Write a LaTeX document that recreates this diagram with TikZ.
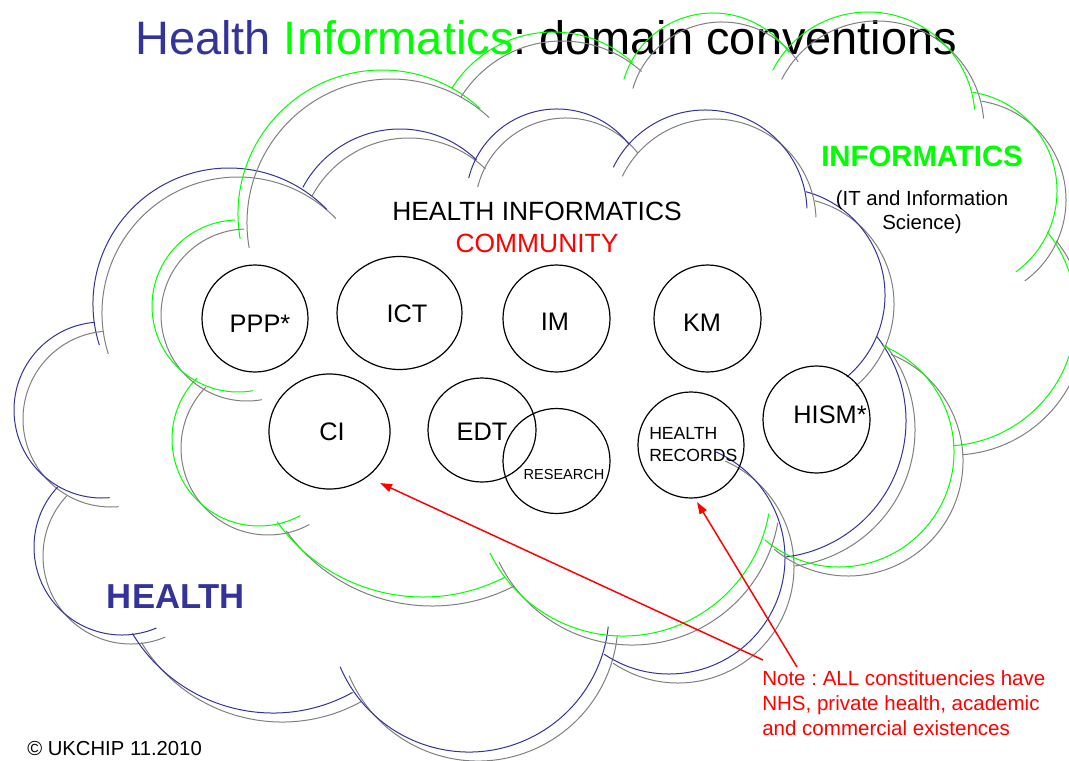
\documentclass[tikz,border=0pt]{standalone}
\usepackage{fontspec}
\setmainfont{Liberation Sans}
\usetikzlibrary{arrows.meta,shapes.geometric}
\definecolor{hblue}{RGB}{51,51,153}
\definecolor{igreen}{RGB}{0,255,0}
\definecolor{sgray}{RGB}{128,128,128}
\definecolor{nred}{RGB}{255,0,0}
% #1 style, #2 cx, #3 cy, #4 radius, #5 start angle, #6 end angle (pixel coords, y down)
\newcommand\cloudarc[6]{%
  \draw[shadowarc] (#2+9,#3+9) ++(#5:#4) arc[start angle=#5,end angle=#6,radius=#4];
  \draw[#1] (#2,#3) ++(#5:#4) arc[start angle=#5,end angle=#6,radius=#4];}
\newcommand\fsz[1]{\fontsize{#1pt}{#1pt}\selectfont}
\frenchspacing
\begin{document}
\begin{tikzpicture}[x=0.75pt,y=-0.75pt,
  healtharc/.style={draw=hblue,line width=0.75pt},
  infoarc/.style={draw=igreen,line width=0.75pt},
  shadowarc/.style={draw=sgray,line width=0.75pt},
  ring/.style={draw=black,line width=0.9pt,ellipse,inner sep=0pt},
  lbl/.style={inner sep=0pt,anchor=base,font=\fsz{19}},
  notetext/.style={inner sep=0pt,anchor=base west,text=nred,font=\fsz{15.4}},
  noteline/.style={draw=nred,line width=1.1pt,-{Triangle[length=9pt,width=6pt]}}]
\fill[white] (0,0) rectangle (1069,760);
\useasboundingbox (0,0) rectangle (1069,760);

% title
\node[inner sep=0pt,anchor=base west,font=\fsz{35.2}] (title) at (135,54)
  {\textcolor{hblue}{Health} \textcolor{igreen}{Informatics}: domain conventions};

% HEALTH cloud (blue)
\cloudarc{healtharc}{229}{304}{136}{162.5}{316}
\cloudarc{healtharc}{102}{410}{88}{265}{85}
\cloudarc{healtharc}{122}{547}{88}{223}{67}
\cloudarc{healtharc}{273}{549}{164}{149}{61}
\cloudarc{healtharc}{469}{612}{140}{157}{6}
\cloudarc{healtharc}{669}{558}{116}{124}{-66}
\cloudarc{healtharc}{769}{421}{137}{322}{443}
\cloudarc{healtharc}{778}{295}{107}{285}{410}
\cloudarc{healtharc}{400}{239}{110}{208}{314}
\cloudarc{healtharc}{557}{200}{91}{194}{322}
\cloudarc{healtharc}{705}{212}{102}{206}{358}

% INFORMATICS cloud (green)
\cloudarc{infoarc}{382}{214}{144}{170}{313}
\cloudarc{infoarc}{553}{151}{119}{212}{312}
\cloudarc{infoarc}{713}{106}{93}{196.5}{325}
\cloudarc{infoarc}{868}{119}{107}{207}{355}
\cloudarc{infoarc}{957}{191}{100}{279}{414}
\cloudarc{infoarc}{944}{314}{132}{321.5}{446}
\cloudarc{infoarc}{839}{452}{115}{292}{490}
\cloudarc{infoarc}{623}{488}{148}{10}{154}
\cloudarc{infoarc}{423}{418}{179}{144.5}{62.7}
\cloudarc{infoarc}{259}{439}{87}{224.5}{61.6}
\cloudarc{infoarc}{238}{306}{86}{80}{268}

% community circles
\node[ring,minimum width=79.5pt,minimum height=80.25pt] (ppp) at (255,318.5) {};
\node[ring,minimum width=93.75pt,minimum height=84.75pt] (ict) at (399.5,313) {};
\node[ring,minimum width=80.25pt,minimum height=80.25pt] (im) at (556.5,318.5) {};
\node[ring,minimum width=80.25pt,minimum height=80.25pt] (km) at (707.5,318.5) {};
\node[ring,minimum width=90.75pt,minimum height=86.25pt] (ci) at (329.5,431.5) {};
\node[ring,minimum width=81pt,minimum height=78pt] (edt) at (482,430) {};
\node[ring,minimum width=80.25pt,minimum height=78.75pt] (res) at (556.5,461) {};
\node[ring,minimum width=79.5pt,minimum height=79.5pt] (hr) at (691,445) {};
\node[ring,minimum width=80.25pt,minimum height=80.25pt] (hism) at (816.5,419.5) {};

\node[lbl] (ppptxt) at (260,332) {PPP*};
\node[lbl] (icttxt) at (407,322) {ICT};
\node[lbl] (imtxt) at (555,330) {IM};
\node[lbl] (kmtxt) at (702,331) {KM};
\node[lbl] (citxt) at (332,440) {CI};
\node[lbl] (edttxt) at (482,440) {EDT};
\node[lbl,font=\fsz{10.9}] (restxt) at (564,479) {RESEARCH};
\node[lbl,anchor=base west,font=\fsz{13.2}] (hrtxt1) at (649,439) {HEALTH};
\node[lbl,anchor=base west,font=\fsz{13.2}] (hrtxt2) at (649,461) {RECORDS};
\node[lbl] (hismtxt) at (830,423) {HISM*};

% cloud titles
\node[lbl,font=\fsz{19.8}] (hi) at (537,220) {HEALTH INFORMATICS};
\node[lbl,font=\fsz{19.8},text=nred] (comm) at (537,252) {COMMUNITY};
\node[lbl,font=\bfseries\fsz{22},text=igreen] (info) at (922,166) {INFORMATICS};
\node[lbl,font=\fsz{15.3}] (it1) at (922,205) {(IT and Information};
\node[lbl,font=\fsz{15.3}] (it2) at (922,229) {Science)};
\node[lbl,font=\bfseries\fsz{26},text=hblue] (health) at (176,608) {HEALTH};

% note
\node[notetext] (note1) at (762,685) {Note : ALL constituencies have};
\node[notetext] (note2) at (762,710) {NHS, private health, academic};
\node[notetext] (note3) at (762,735) {and commercial existences};
\coordinate (n1from) at (763,660);
\coordinate (n1to) at (380,483);
\coordinate (n2from) at (797,667);
\coordinate (n2to) at (697,502);
\draw[noteline] (n1from) -- (n1to);
\draw[noteline] (n2from) -- (n2to);

% copyright
\node[inner sep=0pt,anchor=base west,font=\fsz{15.2}] (copy) at (27,755) {© UKCHIP 11.2010};
\end{tikzpicture}
\end{document}
